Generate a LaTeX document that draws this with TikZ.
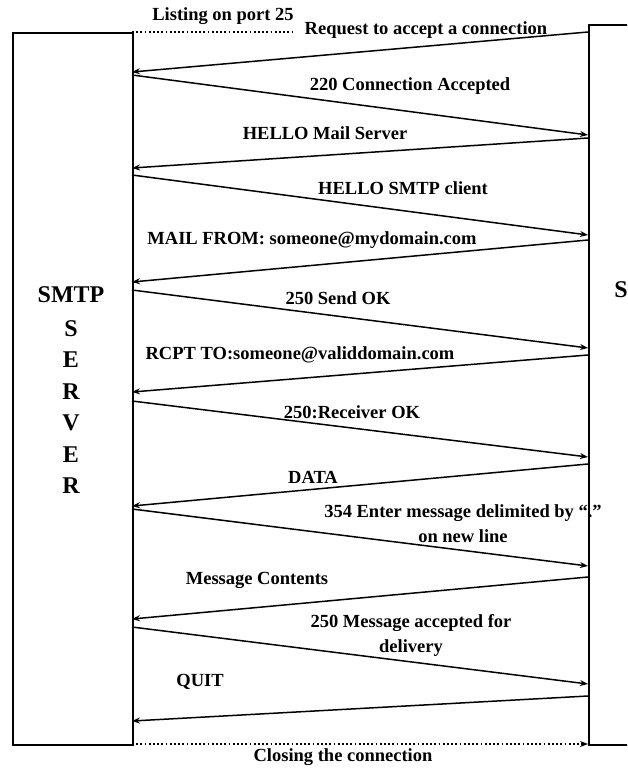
\documentclass[tikz,border=0pt]{standalone}
\usepackage{fontspec}
\setmainfont{Liberation Serif}
\usetikzlibrary{arrows.meta}
\begin{document}
\begin{tikzpicture}[x=1pt,y=-1pt,
  lifebox/.style={draw, line width=1.6pt, inner sep=0pt, anchor=north west},
  msg/.style={line width=1.5pt, -{Stealth[length=8pt,width=6pt]}},
  dotline/.style={line width=1.4pt, dash pattern=on 1.8pt off 2.4pt},
  lbl/.style={font=\bfseries\fontsize{18.5}{25}\selectfont, inner sep=0pt, align=center},
  title/.style={font=\bfseries\fontsize{24}{31.5}\selectfont, inner sep=0pt, align=center}]
\useasboundingbox (0,0) rectangle (627,768);
\begin{scope}
\clip (0,0) rectangle (627,768);

% the two parties
\node[lifebox, minimum width=120pt, minimum height=712pt] (server) at (12,32) {};
\node[lifebox, minimum width=122pt, minimum height=720pt] (client) at (588,24) {};
\node[title] (stitle) at (71,390) {SMTP\\[2.5pt]S\\E\\R\\V\\E\\R};
\node[title] (ctitle) at (621,290) {S};

% message end points on the server side
\coordinate (ltop) at (132,32);
\coordinate (l1) at (132,72);
\coordinate (l2) at (132,75);
\coordinate (l3) at (132,168);
\coordinate (l4) at (132,175);
\coordinate (l5) at (132,282);
\coordinate (l6) at (132,290);
\coordinate (l7) at (132,392);
\coordinate (l8) at (132,401);
\coordinate (l9) at (132,506);
\coordinate (l10) at (132,509);
\coordinate (l11) at (132,619);
\coordinate (l12) at (132,627);
\coordinate (l13) at (132,721);
\coordinate (lbot) at (132,744);
\coordinate (listen) at (294,32);

% message end points on the client side
\coordinate (r1) at (588,32);
\coordinate (r2) at (588,135);
\coordinate (r3) at (588,138);
\coordinate (r4) at (588,235);
\coordinate (r5) at (588,240);
\coordinate (r6) at (588,348);
\coordinate (r7) at (588,355);
\coordinate (r8) at (588,457);
\coordinate (r9) at (588,464);
\coordinate (r10) at (588,566);
\coordinate (r11) at (588,577);
\coordinate (r12) at (588,684);
\coordinate (r13) at (588,696);
\coordinate (rbot) at (588,744);

% messages
\draw[dotline] (ltop) -- (listen);
\draw[msg] (r1) -- (l1);
\draw[msg] (l2) -- (r2);
\draw[msg] (r3) -- (l3);
\draw[msg] (l4) -- (r4);
\draw[msg] (r5) -- (l5);
\draw[msg] (l6) -- (r6);
\draw[msg] (r7) -- (l7);
\draw[msg] (l8) -- (r8);
\draw[msg] (r9) -- (l9);
\draw[msg] (l10) -- (r10);
\draw[msg] (r11) -- (l11);
\draw[msg] (l12) -- (r12);
\draw[msg] (r13) -- (l13);
\draw[dotline, -{Stealth[length=8pt,width=6pt]}] (lbot) -- (rbot);

% labels
\node[lbl] (t0) at (223,16) {Listing on port 25};
\node[lbl] (t1) at (426,30) {Request to accept a connection};
\node[lbl] (t2) at (410,86) {220 Connection Accepted};
\node[lbl] (t3) at (325,133) {HELLO Mail Server};
\node[lbl] (t4) at (403,188) {HELLO SMTP client};
\node[lbl] (t5) at (312,240) {MAIL FROM: someone@mydomain.com};
\node[lbl] (t6) at (338,298) {250 Send OK};
\node[lbl] (t7) at (300,355) {RCPT TO:someone@validdomain.com};
\node[lbl] (t8) at (352,412) {250:Receiver OK};
\node[lbl] (t9) at (313,477) {DATA};
\node[lbl] (t10) at (463,524) {354 Enter message delimited by “.”\\on new line};
\node[lbl] (t11) at (257,580) {Message Contents};
\node[lbl] (t12) at (411,635) {250 Message accepted for\\delivery};
\node[lbl] (t13) at (200,682) {QUIT};
\node[lbl] (t14) at (343,757) {Closing the connection};
\end{scope}
\end{tikzpicture}
\end{document}
